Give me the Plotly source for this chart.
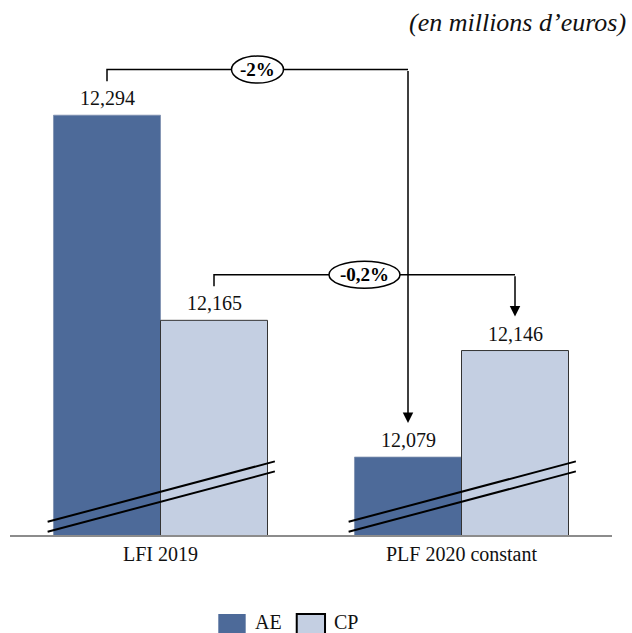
import plotly.graph_objects as go

# Budget credits (en millions d'euros)
CATEGORIES = ["LFI 2019", "PLF 2020 constant"]
AE_VALUES = [12.294, 12.079]
CP_VALUES = [12.165, 12.146]
CHANGE_LABELS = ["-2%", "-0,2%"]
SERIES_NAMES = ["AE", "CP"]

AE_COLOR = "#4d6a99"
CP_COLOR = "#c4cfe2"
FONT = "Liberation Serif"

AXIS_MIN, AXIS_MAX = 12.03, 12.335
BAR_GAP = 0.289
HALF = (1 - BAR_GAP) / 4          # offset of each bar centre from its group centre

xs = list(range(len(CATEGORIES)))

fig = go.Figure()
fig.add_trace(go.Bar(x=xs, y=AE_VALUES, name=SERIES_NAMES[0],
                     marker=dict(color=AE_COLOR, line=dict(color="#7d8fae", width=0.8)),
                     hoverinfo="skip", showlegend=False))
fig.add_trace(go.Bar(x=xs, y=CP_VALUES, name=SERIES_NAMES[1],
                     marker=dict(color=CP_COLOR, line=dict(color="#333333", width=1)),
                     hoverinfo="skip", showlegend=False))

annotations = []
shapes = []

# value labels above each bar
for vals, off in ((AE_VALUES, -HALF), (CP_VALUES, HALF)):
    for i, v in enumerate(vals):
        annotations.append(dict(x=i + off, y=v, xref="x", yref="y",
                                text=f"{v:.3f}".replace(".", ","),
                                showarrow=False, yanchor="bottom", yshift=4,
                                font=dict(family=FONT, size=20, color="#111")))

# change brackets: from 2019 bar to 2020 bar, with an ellipse-framed label
LIFT = 0.0214
RISE = 0.0287
ELLIPSE_W = [52, 71]
for k, (vals, off) in enumerate(((AE_VALUES, -HALF), (CP_VALUES, HALF))):
    x0, x1 = xs[0] + off, xs[1] + off
    y_top = vals[0] + RISE
    fig.add_trace(go.Scatter(x=[x0, x0, x1], y=[vals[0] + LIFT, y_top, y_top],
                             mode="lines", line=dict(color="black", width=1.5),
                             hoverinfo="skip", showlegend=False))
    annotations.append(dict(x=x1, y=vals[1] + LIFT, ax=x1, ay=y_top,
                            xref="x", yref="y", axref="x", ayref="y",
                            text="", showarrow=True, arrowhead=2, arrowsize=1.4,
                            arrowwidth=1.5, arrowcolor="black", standoff=0))
    xc = (x0 + x1) / 2
    w = ELLIPSE_W[k]
    shapes.append(dict(type="circle", xref="x", yref="y",
                       xsizemode="pixel", ysizemode="pixel",
                       xanchor=xc, yanchor=y_top,
                       x0=-w / 2, x1=w / 2, y0=-13.5, y1=13.5,
                       fillcolor="white", line=dict(color="black", width=1.5),
                       layer="above"))
    annotations.append(dict(x=xc, y=y_top, xref="x", yref="y",
                            text=f"<b>{CHANGE_LABELS[k]}</b>", showarrow=False,
                            font=dict(family=FONT, size=19, color="black")))

# axis-break marks across each group
for i in xs:
    for lo, hi in ((0.0083, 0.0463), (0.0020, 0.0400)):
        shapes.append(dict(type="line", xref="x", yref="y",
                           x0=i - 0.375, x1=i + 0.38,
                           y0=AXIS_MIN + lo, y1=AXIS_MIN + hi,
                           line=dict(color="black", width=2), layer="above"))

# legend
LEG = [(0.346, 0.3915, 0.4037, AE_COLOR, dict(color=AE_COLOR, width=0)),
       (0.4763, 0.5233, 0.5349, CP_COLOR, dict(color="black", width=2))]
for (sx0, sx1, tx, col, ln), name in zip(LEG, SERIES_NAMES):
    shapes.append(dict(type="rect", xref="paper", yref="paper",
                       x0=sx0, x1=sx1, y0=-0.2082, y1=-0.1629,
                       fillcolor=col, line=ln))
    annotations.append(dict(x=tx, y=-0.1794, xref="paper", yref="paper",
                            text=name, showarrow=False, xanchor="left",
                            yanchor="middle",
                            font=dict(family=FONT, size=20, color="#111")))

# unit note
annotations.append(dict(x=1, y=1.0577, xref="paper", yref="paper", xshift=16,
                        text="<i>(en millions d’euros)</i>", showarrow=False,
                        xanchor="right", yanchor="middle",
                        font=dict(family=FONT, size=26, color="#111")))

fig.update_layout(
    width=632, height=633,
    margin=dict(l=10, r=20, t=50, b=98),
    paper_bgcolor="white", plot_bgcolor="white",
    barmode="group", bargap=BAR_GAP, bargroupgap=0,
    separators=",.",
    xaxis=dict(range=[-0.5, 1.5], tickvals=xs, ticktext=CATEGORIES,
               showline=True, linecolor="#8c8c8c", linewidth=1.5,
               showgrid=False, zeroline=False, ticks="",
               tickfont=dict(family=FONT, size=20, color="#111")),
    yaxis=dict(range=[AXIS_MIN, AXIS_MAX], visible=False, showgrid=False),
    shapes=shapes, annotations=annotations,
)

fig.write_html("out.html")
